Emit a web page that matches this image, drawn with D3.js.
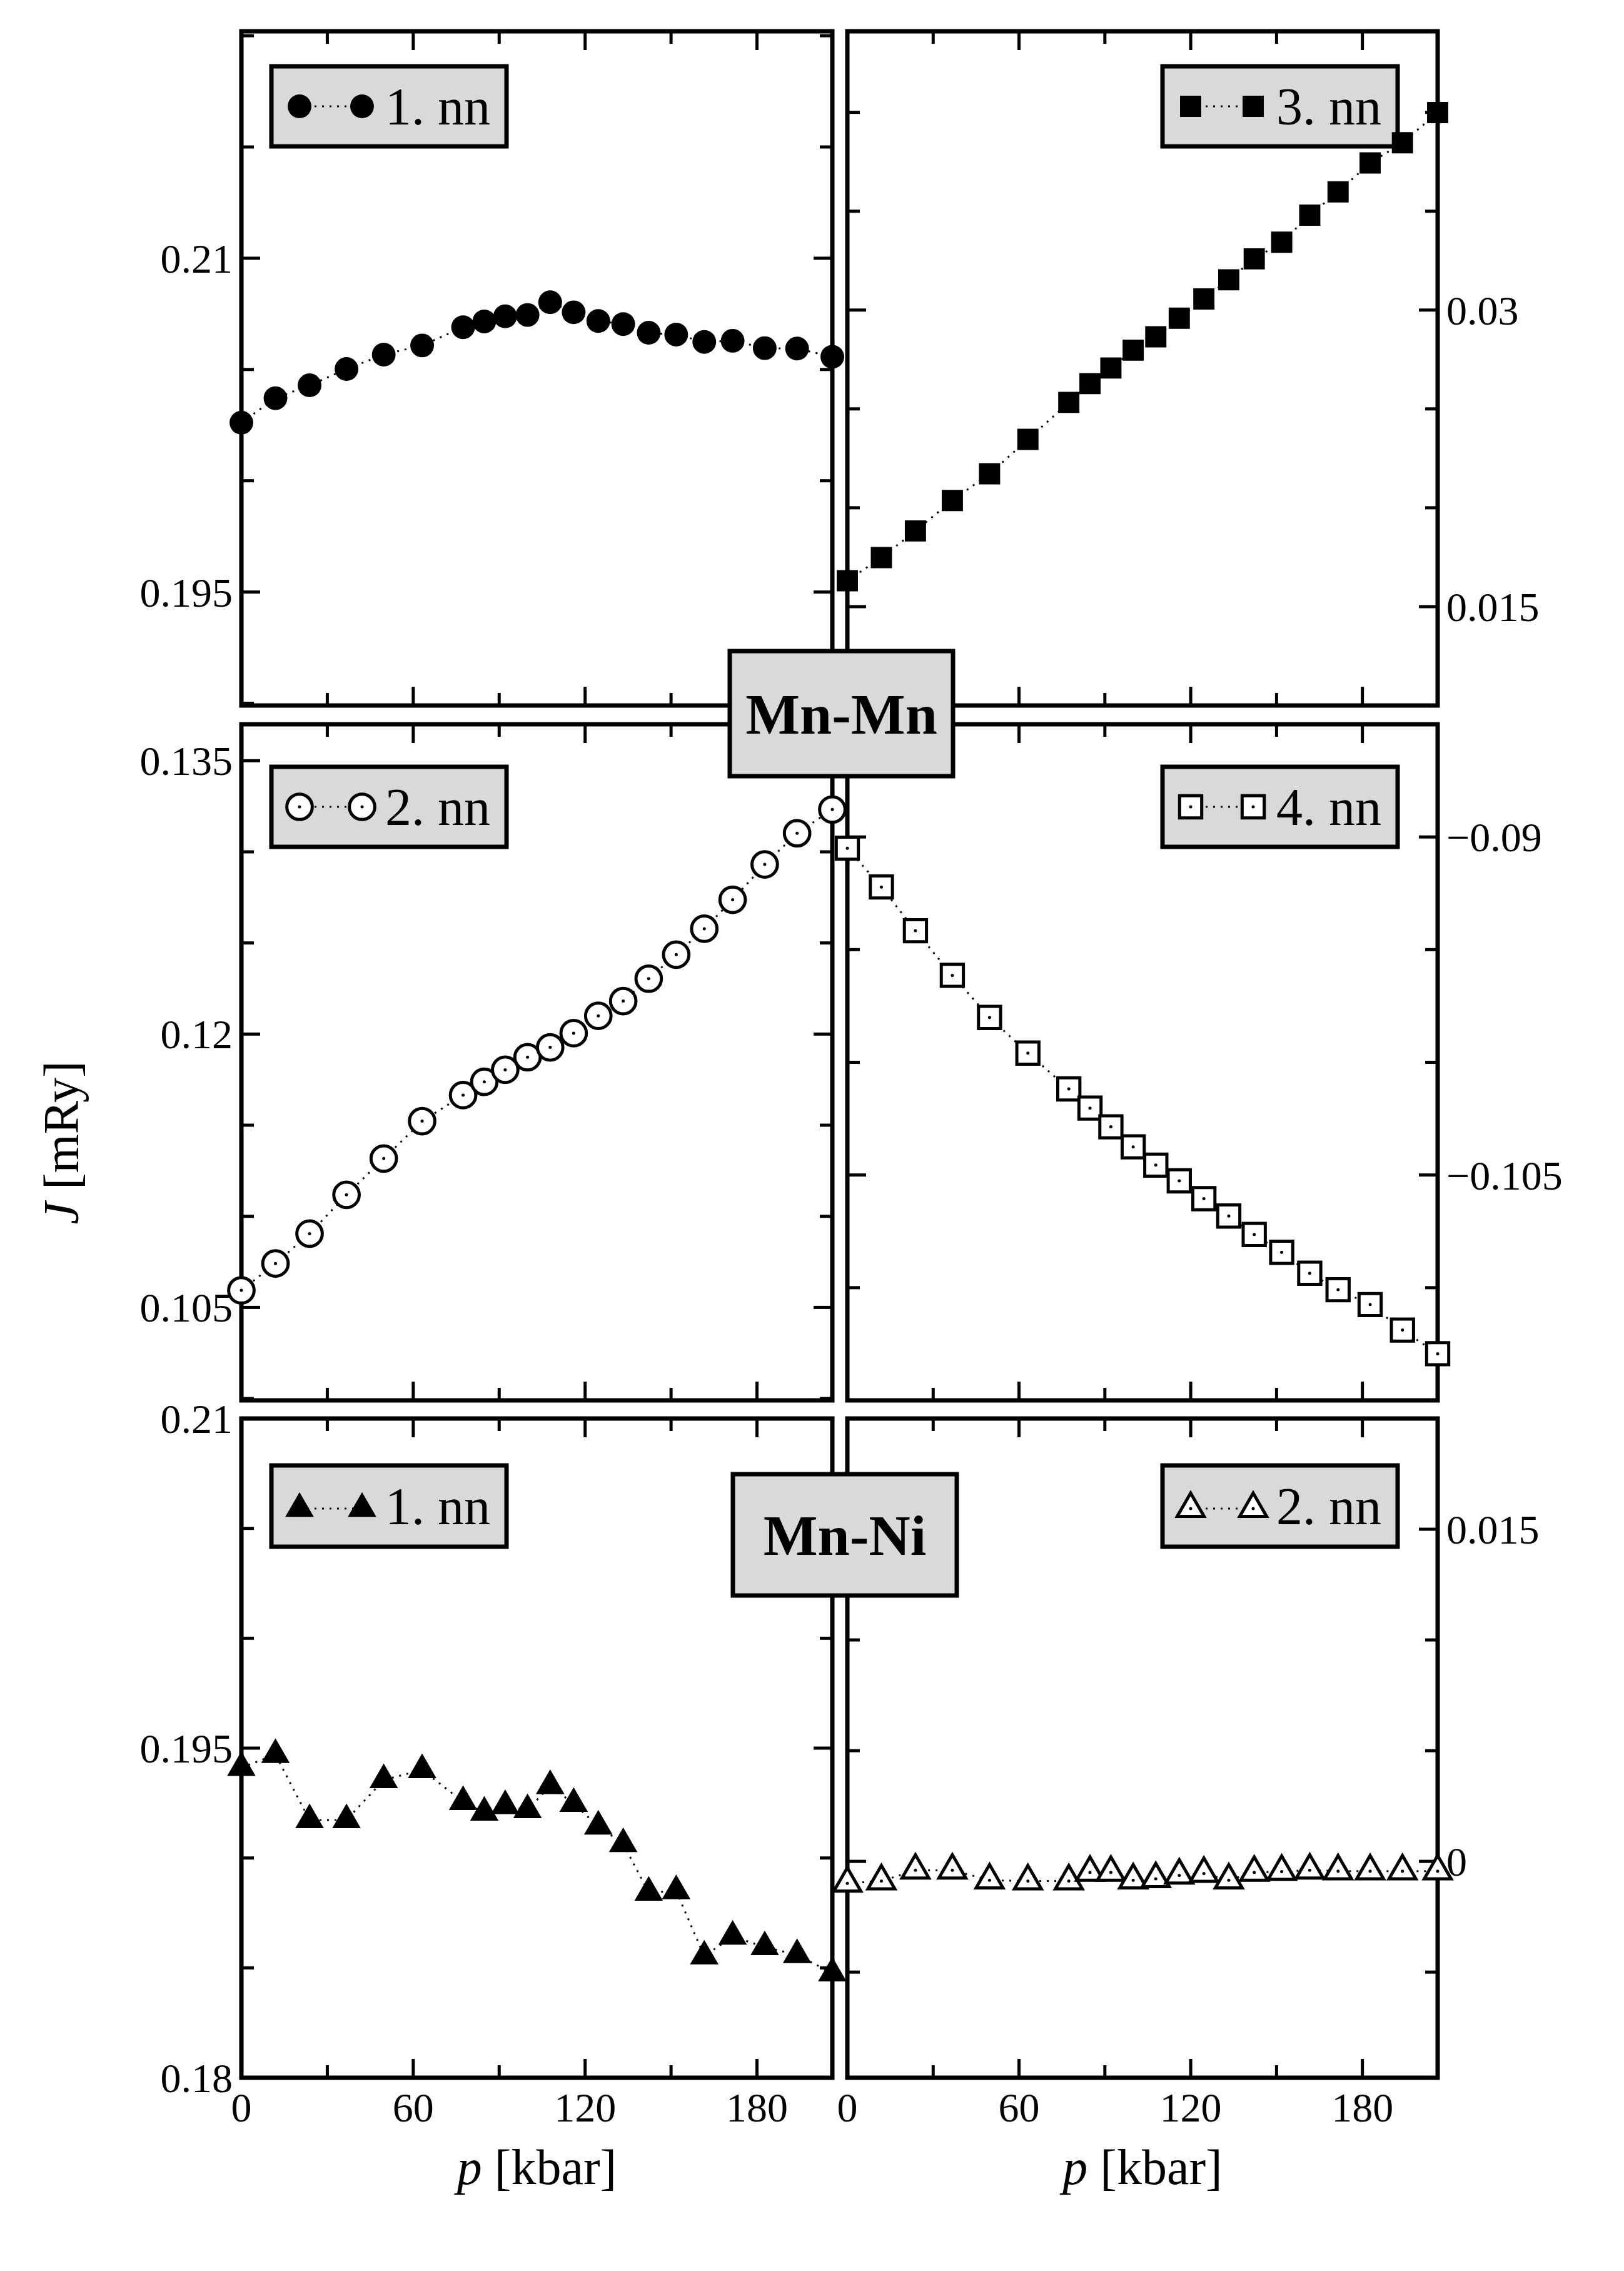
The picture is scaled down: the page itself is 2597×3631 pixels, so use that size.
<!DOCTYPE html>
<html><head><meta charset="utf-8">
<script src="https://cdn.jsdelivr.net/npm/d3@7"></script>
<style>body{margin:0;background:#fff}</style>
</head><body>
<svg id="c" width="2597" height="3631"></svg>
<script>
const pressure = [0, 11.9, 23.8, 36.7, 49.7, 63.1, 77.4, 84.8, 92.1, 99.9, 107.8, 116, 124.6, 133.3, 142.2, 151.8, 161.6, 171.5, 182.7, 194, 206.3];
const mnmn1 = [0.20261,0.20371,0.20429,0.20502,0.20567,0.20608,0.20690,0.20716,0.20739,0.20745,0.20802,0.20757,0.20718,0.20704,0.20665,0.20657,0.20624,0.20629,0.20596,0.20594,0.20557];
const mnmn3 = [0.01631,0.01748,0.01883,0.02037,0.02172,0.02346,0.02533,0.02628,0.02707,0.02797,0.02865,0.02959,0.03056,0.03153,0.03259,0.03343,0.03480,0.03598,0.03744,0.03846,0.03999];
const mnmn2 = [0.10594,0.10741,0.10905,0.11118,0.11317,0.11522,0.11665,0.11738,0.11804,0.11873,0.11927,0.12005,0.12100,0.12181,0.12304,0.12436,0.12578,0.12737,0.12931,0.13102,0.13232];
const mnmn4 = [-0.09050,-0.09222,-0.09416,-0.09614,-0.09801,-0.09959,-0.10118,-0.10203,-0.10286,-0.10375,-0.10456,-0.10526,-0.10605,-0.10682,-0.10764,-0.10843,-0.10936,-0.11009,-0.11075,-0.11188,-0.11293];
const mnni1 = [0.19411,0.19470,0.19173,0.19173,0.19355,0.19401,0.19256,0.19207,0.19237,0.19219,0.19328,0.19247,0.19144,0.19064,0.18843,0.18850,0.18553,0.18643,0.18595,0.18559,0.18476];
const mnni2 = [-0.00099,-0.00089,-0.00040,-0.00040,-0.00085,-0.00089,-0.00089,-0.00050,-0.00050,-0.00085,-0.00079,-0.00063,-0.00055,-0.00085,-0.00050,-0.00046,-0.00040,-0.00044,-0.00044,-0.00044,-0.00044];
const xTickLabels = [0, 60, 120, 180];
const legendLabels = ["1. nn","3. nn","2. nn","4. nn","1. nn","2. nn"];
const groupLabels = ["Mn-Mn","Mn-Ni"];

const svg = d3.select("#c");
const FONT = "'Liberation Serif','DejaVu Serif',serif";
const cols = [[386,1331],[1355,2299]];
const rows = [[50,1128],[1158,2239],[2268,3322]];
const panels = [
  {c:0,r:0,data:mnmn1,dom:[0.1899,0.2202],sym:"circle",fill:true,leg:0},
  {c:1,r:0,data:mnmn3,dom:[0.0100,0.0441],sym:"square",fill:true,leg:1},
  {c:0,r:1,data:mnmn2,dom:[0.0999,0.1370],sym:"circle",fill:false,leg:2},
  {c:1,r:1,data:mnmn4,dom:[-0.1150,-0.0850],sym:"square",fill:false,leg:3},
  {c:0,r:2,data:mnni1,dom:[0.18,0.21],sym:"triangle",fill:true,leg:4},
  {c:1,r:2,data:mnni2,dom:[-0.00977,0.0200],sym:"triangle",fill:false,leg:5}
];
function symPath(s, fill){
  const t = s==="circle"?d3.symbolCircle:s==="square"?d3.symbolSquare:d3.symbolTriangle;
  let size = s==="circle"?(fill?1130:1300):s==="square"?(fill?1150:1250):(fill?900:800);
  return d3.symbol().type(t).size(size)();
}
function drawMarker(g,x,y,p){
  g.append("path").attr("d",symPath(p.sym,p.fill)).attr("transform",`translate(${x},${y})`)
    .attr("fill",p.fill?"#000":"#fff").attr("stroke","#000").attr("stroke-width",p.fill?0:5);
  if(!p.fill) g.append("circle").attr("cx",x).attr("cy",y).attr("r",2.5).attr("fill","#000");
}
const fmt = v => String(+v.toFixed(4)).replace("-","\u2212");

panels.forEach(p=>{
  const [x0,x1]=cols[p.c], [y0,y1]=rows[p.r];
  const x=d3.scaleLinear().domain([0,206.3]).range([x0,x1]);
  const y=d3.scaleLinear().domain(p.dom).range([y1,y0]);
  const g=svg.append("g");
  // ticks
  d3.range(0,207,30).forEach((v,i)=>{
    const L = (v%60===0)?30:20;
    g.append("line").attr("x1",x(v)).attr("x2",x(v)).attr("y1",y1).attr("y2",y1-L).attr("stroke","#000").attr("stroke-width",5);
    g.append("line").attr("x1",x(v)).attr("x2",x(v)).attr("y1",y0).attr("y2",y0+L).attr("stroke","#000").attr("stroke-width",5);
  });
  const k0=Math.ceil(p.dom[0]/0.005-1e-6), k1=Math.floor(p.dom[1]/0.005+1e-6);
  for(let k=k0;k<=k1;k++){
    const v=k*0.005, major=(k%3===0);
    const L = major?30:20;
    g.append("line").attr("x1",x0).attr("x2",x0+L).attr("y1",y(v)).attr("y2",y(v)).attr("stroke","#000").attr("stroke-width",5);
    g.append("line").attr("x1",x1).attr("x2",x1-L).attr("y1",y(v)).attr("y2",y(v)).attr("stroke","#000").attr("stroke-width",5);
    if(major){
      g.append("text").attr("x",p.c===0?x0-14:x1+14).attr("y",y(v)).attr("dy","0.35em")
        .attr("text-anchor",p.c===0?"end":"start").attr("font-family",FONT).attr("font-size",66).text(fmt(v));
    }
  }
  g.append("rect").attr("x",x0).attr("y",y0).attr("width",x1-x0).attr("height",y1-y0)
    .attr("fill","none").attr("stroke","#000").attr("stroke-width",7);
  if(p.r===2){
    xTickLabels.forEach(v=>g.append("text").attr("x",x(v)).attr("y",y1+70).attr("text-anchor","middle")
      .attr("font-family",FONT).attr("font-size",66).text(v));
    const t=g.append("text").attr("x",(x0+x1)/2).attr("y",y1+170).attr("text-anchor","middle")
      .attr("font-family",FONT).attr("font-size",80);
    t.append("tspan").attr("font-style","italic").text("p");
    t.append("tspan").text(" [kbar]");
  }
  // legend
  const lx = p.c===0?434:1859, ly = [106,1226,2343][p.r], lh = p.r===2?130:128;
  const lw = 376;
  const lg = svg.append("g");
  lg.append("rect").attr("x",lx).attr("y",ly).attr("width",lw).attr("height",lh).attr("fill","#d9d9d9").attr("stroke","#000").attr("stroke-width",7);
  const my = ly+lh/2+(p.sym==="triangle"?4:0);
  lg.append("line").attr("x1",lx+45).attr("x2",lx+145).attr("y1",my).attr("y2",my).attr("stroke","#000").attr("stroke-width",3).attr("stroke-dasharray","3,9");
  drawMarker(lg,lx+45,my,p); drawMarker(lg,lx+145,my,p);
  lg.append("text").attr("x",lx+182).attr("y",ly+lh/2).attr("dy","0.35em").attr("font-family",FONT).attr("font-size",84).text(legendLabels[p.leg]);
  p.draw = ()=>{
    const dg=svg.append("g");
    dg.append("path").datum(p.data).attr("d",d3.line().x((d,i)=>x(pressure[i])).y(d=>y(d)))
      .attr("fill","none").attr("stroke","#000").attr("stroke-width",3).attr("stroke-dasharray","3,9");
    p.data.forEach((d,i)=>drawMarker(dg,x(pressure[i]),y(d),p));
  };
});
panels.forEach(p=>p.draw());
// group labels
[[1167,1041,357,200,0],[1172,2357,358,194,1]].forEach(([bx,by,bw,bh,i])=>{
  svg.append("rect").attr("x",bx).attr("y",by).attr("width",bw).attr("height",bh).attr("fill","#d9d9d9").attr("stroke","#000").attr("stroke-width",7);
  svg.append("text").attr("x",bx+bw/2).attr("y",by+bh/2).attr("dy","0.35em").attr("text-anchor","middle")
    .attr("font-family",FONT).attr("font-weight","bold").attr("font-size",92).text(groupLabels[i]);
});
// y label
const yl=svg.append("text").attr("transform","translate(125,1827) rotate(-90)").attr("text-anchor","middle")
  .attr("font-family",FONT).attr("font-size",80);
yl.append("tspan").attr("font-style","italic").text("J");
yl.append("tspan").text("  [mRy]");
</script>
</body></html>
